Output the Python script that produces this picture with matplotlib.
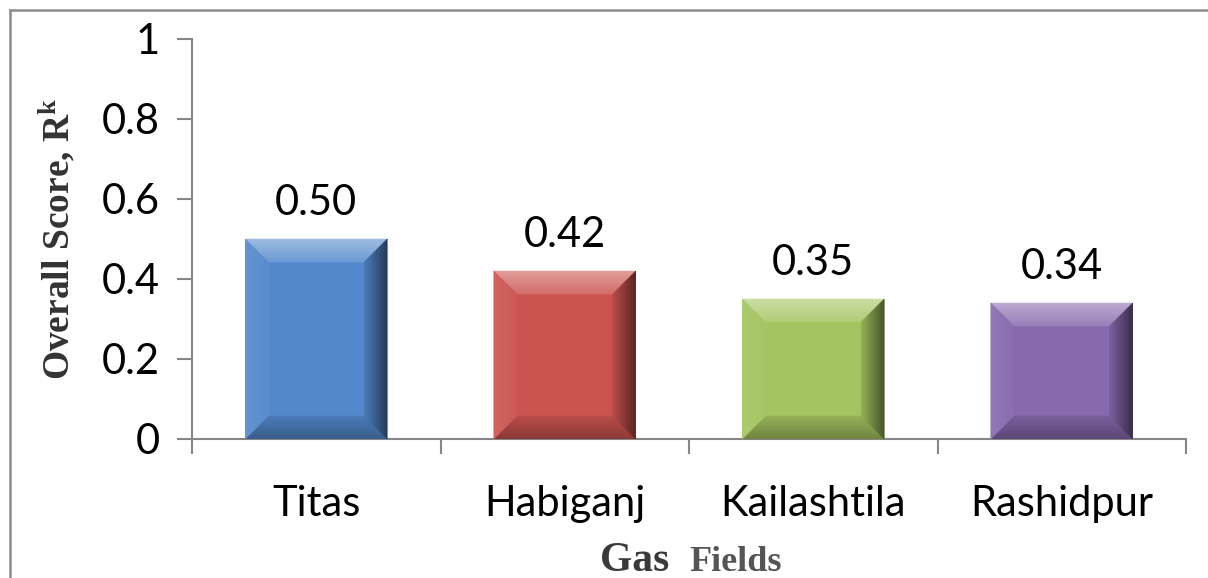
import numpy as np
import matplotlib.pyplot as plt
from matplotlib.colors import to_rgb
from matplotlib.patches import Polygon
from matplotlib.lines import Line2D

fields = ["Titas", "Habiganj", "Kailashtila", "Rashidpur"]
scores = [0.50, 0.42, 0.35, 0.34]
y_ticks = [0, 0.2, 0.4, 0.6, 0.8, 1]

bar_colors = ["#5389CC", "#CC5450", "#A3C460", "#8769AD"]
axis_gray = "#868686"

plt.rcParams["font.family"] = ["Lato", "DejaVu Sans"]
plt.rcParams["mathtext.fontset"] = "custom"
plt.rcParams["mathtext.rm"] = "Liberation Serif"
plt.rcParams["mathtext.bf"] = "Liberation Serif:bold"


def shade(c, f):
    # f > 0 mixes toward white, f < 0 toward black
    c = np.array(to_rgb(c))
    if f >= 0:
        return tuple(c + (1 - c) * f)
    return tuple(c * (1 + f))


def bevel(ax, patch, color, dx, dy, n=14):
    x0, y0 = patch.get_x(), patch.get_y()
    x1, y1 = x0 + patch.get_width(), y0 + patch.get_height()

    def corners(s):
        return {"bl": (x0 + s * dx, y0 + s * dy), "br": (x1 - s * dx, y0 + s * dy),
                "tr": (x1 - s * dx, y1 - s * dy), "tl": (x0 + s * dx, y1 - s * dy)}

    sides = {
        "top": (("tl", "tr"), 0.45, 0.15),
        "bottom": (("bl", "br"), -0.33, -0.1),
        "left": (("bl", "tl"), 0.1, 0.03),
        "right": (("br", "tr"), -0.58, -0.1),
    }
    for i in range(n):
        s0, s1 = i / n, (i + 1) / n
        c0, c1 = corners(s0), corners(s1)
        t = (s0 + s1) / 2
        for (a, b), f_out, f_in in sides.values():
            pts = [c0[a], c0[b], c1[b], c1[a]]
            col = shade(color, f_out + (f_in - f_out) * t)
            ax.add_patch(Polygon(pts, closed=True, fc=col, ec=col, lw=0.4, zorder=3))


fig = plt.figure(figsize=(12.08, 5.78), dpi=100)
ax = fig.add_axes([192 / 1208, 139 / 578, 994 / 1208, 400 / 578])

x = np.arange(len(fields))
bars = ax.bar(x, scores, width=0.571, color=bar_colors, zorder=2)
ax.set_xlim(-0.5, len(fields) - 0.5)
ax.set_ylim(0, 1)

# bevel depth in pixels, turned into data units
px_x = ax.bbox.width / (ax.get_xlim()[1] - ax.get_xlim()[0])
px_y = ax.bbox.height / (ax.get_ylim()[1] - ax.get_ylim()[0])
for b, c in zip(bars, bar_colors):
    bevel(ax, b, c, 23 / px_x, 23 / px_y)

for xi, v in zip(x, scores):
    ax.annotate(f"{v:.2f}", (xi, v), xytext=(0, 12), textcoords="offset points",
                ha="center", va="bottom", fontsize=30)

ax.set_xticks(x)
ax.set_xticklabels(fields)
ax.set_xticks(np.arange(len(fields) + 1) - 0.5, minor=True)
ax.tick_params(axis="x", which="major", length=0, pad=33, labelsize=30)
ax.tick_params(axis="x", which="minor", length=10.5, width=1.5, color=axis_gray)

ax.set_yticks(y_ticks)
ax.set_yticklabels([f"{v:g}" for v in y_ticks])
ax.tick_params(axis="y", length=11, width=1.5, color=axis_gray, pad=12, labelsize=30)

for side in ["top", "right"]:
    ax.spines[side].set_visible(False)
for side in ["left", "bottom"]:
    ax.spines[side].set_color(axis_gray)
    ax.spines[side].set_linewidth(1.5)

ax.set_ylabel(r"Overall Score, $\mathbf{R^{k}}$", family="Liberation Serif",
              weight="bold", fontsize=27, color="#333333")
ax.yaxis.set_label_coords(-0.115, 0.5)

fig.text(600 / 1208, 7 / 578, "Gas", family="Liberation Serif", weight="bold",
         fontsize=30, color="#3a3a3a", va="baseline", ha="left")
fig.text(689 / 1208, 7 / 578, "Fields", family="Liberation Serif", weight="bold",
         fontsize=26, color="#555555", va="baseline", ha="left")

# outer chart frame
fig.add_artist(Line2D([10 / 1208, 1], [1 - 10 / 578] * 2, color="#8c8c8c", lw=1.8))
fig.add_artist(Line2D([10 / 1208] * 2, [0, 1 - 10 / 578], color="#8c8c8c", lw=1.8))

fig.savefig("out.png", dpi=100)
